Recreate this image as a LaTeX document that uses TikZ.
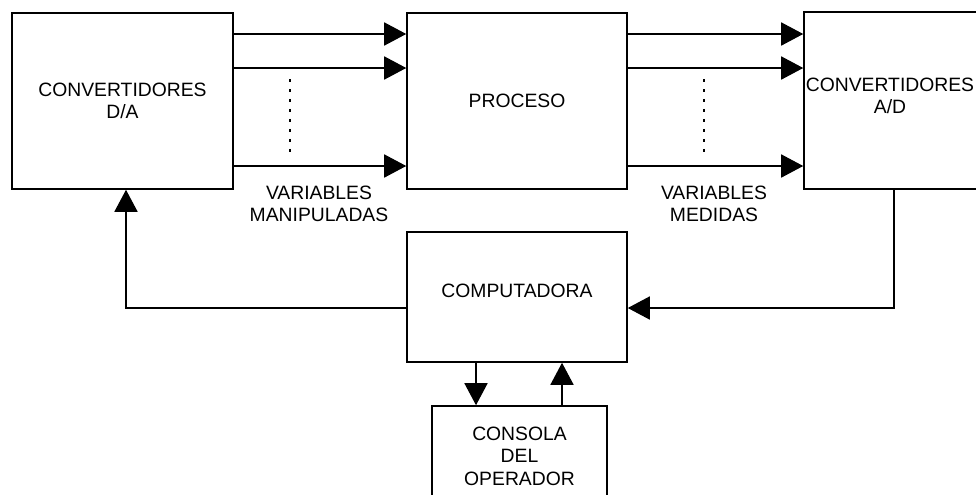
\documentclass[tikz,border=0pt]{standalone}
\usepackage{fontspec}
\setmainfont{Liberation Sans}
\usepackage{tikz}
\usetikzlibrary{arrows.meta,positioning,calc}

\begin{document}
\begin{tikzpicture}[
    x=0.02cm, y=-0.02cm,
    block/.style={rectangle, draw=black, line width=0.9pt, inner sep=0pt, align=center, font=\fontsize{11}{12.8}\selectfont},
    tag/.style={align=center, inner sep=0pt, font=\fontsize{11}{12.5}\selectfont},
    arrow/.style={-{Triangle[length=0.44cm, width=0.46cm]}, line width=0.9pt},
    dots/.style={line width=1.4pt, dash pattern=on 0.06cm off 0.14cm}
]
\useasboundingbox (0,0) rectangle (976,494);
\clip (0,0) rectangle (976,494);

% Blocks
\node[block, minimum width=4.42cm, minimum height=3.52cm] (da) at (122.5, 101) {CONVERTIDORES\\D/A};
\node[block, minimum width=4.4cm, minimum height=3.52cm] (proc) at (517, 101) {PROCESO};
\node[block, minimum width=3.64cm, minimum height=3.54cm] (ad) at (895, 100.5) {};
\node[block, minimum width=4.4cm, minimum height=2.6cm, text depth=0.24cm] (comp) at (517, 297) {COMPUTADORA};
\node[block, minimum width=3.5cm, minimum height=2cm] (cons) at (519.5, 456) {CONSOLA\\DEL\\OPERADOR};
\node[tag, font=\fontsize{11}{12.8}\selectfont] (adtext) at (890, 96) {CONVERTIDORES\\A/D};

% Variables manipuladas
\draw[arrow] (da.east |- 0,34) -- (proc.west |- 0,34);
\draw[arrow] (da.east |- 0,68) -- (proc.west |- 0,68);
\draw[arrow] (da.east |- 0,166) -- (proc.west |- 0,166);
\draw[dots] (290,79) -- (290,157);

% Variables medidas
\draw[arrow] (proc.east |- 0,34) -- (ad.west |- 0,34);
\draw[arrow] (proc.east |- 0,68) -- (ad.west |- 0,68);
\draw[arrow] (proc.east |- 0,166) -- (ad.west |- 0,166);
\draw[dots] (704,79) -- (704,157);

% Feedback loop
\draw[arrow] (ad.south -| 894,0) |- (comp.east |- 0,308);
\draw[arrow] (comp.west |- 0,308) -| (da.south -| 126,0);

% Operator console
\draw[arrow] (comp.south -| 476,0) -- (cons.north -| 476,0);
\draw[arrow] (cons.north -| 562,0) -- (comp.south -| 562,0);

% Labels
\node[tag] (manip) at (319, 204) {VARIABLES\\MANIPULADAS};
\node[tag] (medid) at (714, 204) {VARIABLES\\MEDIDAS};

\end{tikzpicture}
\end{document}
